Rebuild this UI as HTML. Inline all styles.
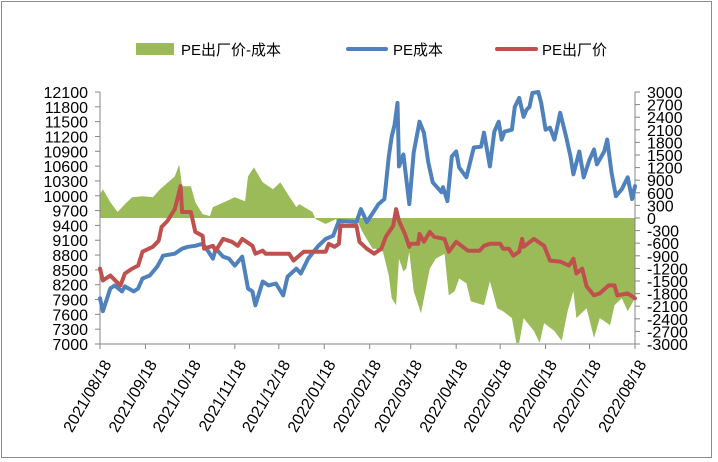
<!DOCTYPE html>
<html><head><meta charset="utf-8">
<style>
body{margin:0;background:#fff;}
svg{display:block;font-family:"Liberation Sans","Noto Sans CJK SC",sans-serif;}
</style></head>
<body>
<svg id="chart" width="718" height="462">
  <rect x="1.5" y="1.5" width="710" height="456" fill="#fff" stroke="#8c8c8c"/>
  <g id="legend">
    <g>
      <rect x="136" y="43" width="38" height="12" fill="#9bbb59"/>
      <text x="181" y="55" font-size="15" fill="#000">PE出厂价-成本</text>
    </g>
    <g>
      <line x1="348" y1="49" x2="386" y2="49" stroke="#4f81bd" stroke-width="4" stroke-linecap="round"/>
      <text x="393" y="55" font-size="15" fill="#000">PE成本</text>
    </g>
    <g>
      <line x1="497" y1="49" x2="536" y2="49" stroke="#c0504d" stroke-width="4" stroke-linecap="round"/>
      <text x="542" y="55" font-size="15" fill="#000">PE出厂价</text>
    </g>
  </g>
  <g id="plot"></g>
</svg>
<script>
// x axis: days since 2021/08/18
const xTickDays = [0,31,61,92,122,153,184,212,243,273,304,334,365];
const xTickLabels = ["2021/08/18","2021/09/18","2021/10/18","2021/11/18","2021/12/18","2022/01/18","2022/02/18","2022/03/18","2022/04/18","2022/05/18","2022/06/18","2022/07/18","2022/08/18"];
const leftTicks = [7000,7300,7600,7900,8200,8500,8800,9100,9400,9700,10000,10300,10600,10900,11200,11500,11800,12100];
const rightTicks = [-3000,-2700,-2400,-2100,-1800,-1500,-1200,-900,-600,-300,0,300,600,900,1200,1500,1800,2100,2400,2700,3000];

const costDays = [0,2,7,10,15,17,23,26,29,34,39,42,43,51,56,60,65,70,74,77,79,84,88,92,97,101,104,106,111,115,120,125,128,134,137,142,149,154,159,163,175,178,182,187,190,194,197,199,201,203,204,207,211,214,218,221,224,227,233,234,237,240,243,245,250,255,260,262,266,269,272,274,276,281,283,286,289,291,293,295,299,301,304,307,310,312,314,318,321,323,327,330,334,337,339,344,346,349,352,356,360,363,365];
const costValues = [7924,7663,8124,8185,8064,8165,8064,8124,8325,8386,8566,8727,8787,8827,8928,8968,8988,9028,8867,8727,8928,8767,8727,8586,8767,8124,8064,7783,8265,8185,8225,7984,8365,8526,8426,8727,8988,9128,9189,9490,9470,9731,9470,9691,9831,9932,10795,11197,11438,11879,10594,10835,9831,10875,11498,11277,10675,10273,10072,10173,9892,10795,10896,10574,10373,10976,10996,11277,10594,11297,11498,11136,11297,11337,11799,11980,11598,11739,11799,12080,12100,11879,11337,11377,11136,11397,11679,11197,10795,10434,10896,10373,10735,10936,10634,10896,11136,10474,9992,10133,10373,9932,10193];

const priceDays = [0,2,7,9,14,17,22,26,29,36,40,42,46,51,55,56,62,65,70,71,77,79,84,90,94,97,104,106,111,113,129,132,139,154,156,160,163,164,175,177,182,187,192,195,200,202,204,208,211,212,217,218,221,225,228,235,238,243,251,259,262,266,273,275,279,282,286,288,289,296,303,307,314,320,323,325,329,332,337,341,347,351,353,360,365];
const priceValues = [8526,8285,8386,8325,8185,8426,8526,8586,8867,8968,9088,9369,9490,9731,10193,9671,9671,9269,9189,8928,8988,8888,9128,9068,8988,9128,8988,8827,8888,8827,8827,8687,8867,8867,9028,8968,9028,9390,9390,9068,8928,8827,8928,9169,9390,9731,9490,9229,8968,9028,9028,9229,9068,9269,9169,9128,8867,9068,8888,8888,8988,9028,9028,8928,8928,8787,8867,9128,8968,9128,8988,8687,8667,8586,8727,8426,8526,8165,7984,8024,8185,8185,7984,8024,7924];

const spreadDays = [0,2,7,12,17,22,29,36,41,51,54,56,62,65,70,75,77,86,92,99,101,105,111,118,123,129,134,136,145,147,154,161,162,175,179,186,188,193,197,199,202,204,207,209,211,214,219,225,229,235,238,242,245,250,253,262,266,271,275,281,284,286,289,296,300,303,310,315,319,323,325,332,337,341,348,351,356,360,365];
const spreadValues = [566,684,378,142,330,496,519,496,684,991,1274,755,755,378,94,47,260,401,496,401,991,1204,850,684,850,519,260,330,142,-24,-142,-24,-189,-24,-330,-732,-732,-802,-1369,-1912,-2077,-968,-1274,-1204,-802,-1746,-2266,-1204,-968,-850,-1841,-1746,-1440,-1558,-1982,-2077,-1510,-2148,-2218,-2384,-2974,-2974,-2384,-2690,-2974,-2502,-2690,-2926,-2218,-1746,-2384,-2148,-2856,-2384,-2549,-2077,-1912,-2218,-1912];

const NS = "http://www.w3.org/2000/svg";
const X0 = 100, X1 = 635, YT = 92, YB = 344;
const xScale = d => X0 + d / 365 * (X1 - X0);
const yLeft = v => YB - (v - 7000) / 5100 * (YB - YT);
const yRight = v => YB - (v + 3000) / 6000 * (YB - YT);
const plot = document.getElementById('plot');
function mk(tag, attrs, parent) {
  const e = document.createElementNS(NS, tag);
  for (const k in attrs) e.setAttribute(k, attrs[k]);
  (parent || plot).appendChild(e);
  return e;
}

// spread area
let d = "M" + xScale(spreadDays[0]) + "," + yRight(0);
spreadDays.forEach((dd, i) => { d += " L" + xScale(dd).toFixed(1) + "," + yRight(spreadValues[i]).toFixed(1); });
d += " L" + xScale(spreadDays[spreadDays.length - 1]) + "," + yRight(0) + " Z";
const area = mk('path', {d: d, fill: '#9bbb59'});



// axes
const axL = mk('line', {x1: X0, y1: YT, x2: X0, y2: YB, stroke: '#868686'});


const axR = mk('line', {x1: X1, y1: YT, x2: X1, y2: YB, stroke: '#868686'});


const axB = mk('line', {x1: X0, y1: YB, x2: X1, y2: YB, stroke: '#868686'});



leftTicks.forEach(v => {
  const y = yLeft(v);
  mk('line', {x1: X0 - 5, y1: y, x2: X0, y2: y, stroke: '#868686'});
  const t = mk('text', {x: 88, y: y + 6, 'font-size': 16, 'text-anchor': 'end', fill: '#000'});
  t.textContent = v;
  
  
});
rightTicks.forEach(v => {
  const y = yRight(v);
  mk('line', {x1: X1, y1: y, x2: X1 + 5, y2: y, stroke: '#868686'});
  const t = mk('text', {x: 647, y: y + 6, 'font-size': 16, fill: '#000'});
  t.textContent = v;
  
  
});
xTickDays.forEach((dd, i) => {
  const x = xScale(dd);
  mk('line', {x1: x, y1: YB, x2: x, y2: YB + 5, stroke: '#868686'});
  const tx = x + 12, ty = 364;
  const t = mk('text', {x: tx, y: ty, 'font-size': 16, 'text-anchor': 'end', fill: '#000', transform: 'rotate(-60 ' + tx + ' ' + ty + ')'});
  t.textContent = xTickLabels[i];
  
  
});

function line(days, vals, color, name) {
  const pts = days.map((dd, i) => xScale(dd).toFixed(1) + "," + yLeft(vals[i]).toFixed(1)).join(" ");
  const p = mk('polyline', {points: pts, fill: 'none', stroke: color, 'stroke-width': 4, 'stroke-linejoin': 'round', 'stroke-linecap': 'round'});
  
  
}
line(costDays, costValues, '#4f81bd', 'cost-line');
line(priceDays, priceValues, '#c0504d', 'price-line');
</script>
</body></html>
